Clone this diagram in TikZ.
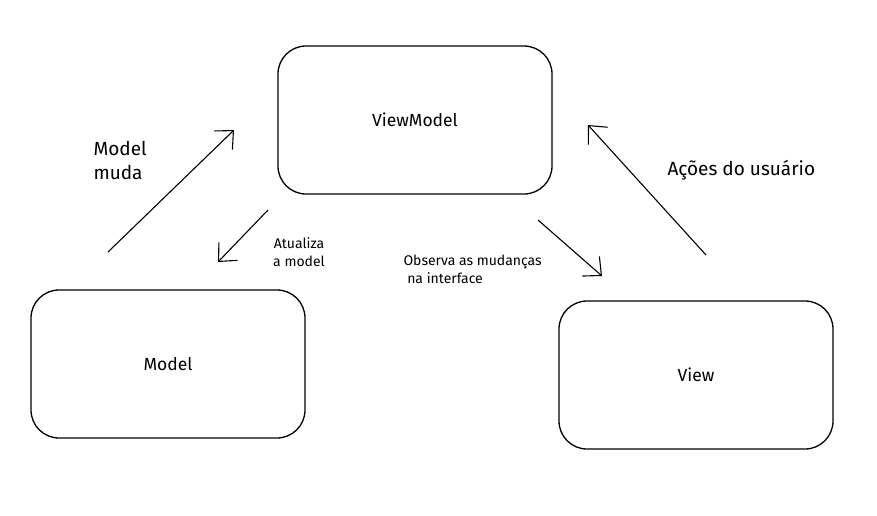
\documentclass[tikz,border=0pt]{standalone}
\usepackage{fontspec}
\setmainfont{Fira Sans}
\usetikzlibrary{arrows.meta}

\begin{document}
\begin{tikzpicture}[x=1pt, y=-1pt,
    box/.style = {draw, line width=1.3pt, rounded corners=28pt,
      minimum width=274pt, minimum height=148pt,
      font=\fontsize{17.5}{20}\selectfont},
    flow/.style = {line width=1.1pt, -{Straight Barb[length=14pt, width=26pt, line width=1.1pt]}},
    big/.style = {font=\fontsize{19}{24}\selectfont, align=left},
    small/.style = {font=\fontsize{14}{18}\selectfont}]

    \useasboundingbox (0,0) rectangle (877,515);

    % the three boxes
    \node[box] (viewmodel) at (415,120) {ViewModel};
    \node[box] (model) at (168,364) {Model};
    \node[box] (view) at (696,375) {View};

    % arrow ends
    \coordinate (mudaA) at (108,252);
    \coordinate (mudaB) at (234,130);
    \coordinate (atuA) at (268,210);
    \coordinate (atuB) at (218,262);
    \coordinate (obsA) at (538,220);
    \coordinate (obsB) at (602,276);
    \coordinate (acaoA) at (706,255);
    \coordinate (acaoB) at (588,125);

    \draw[flow] (mudaA) -- (mudaB);
    \draw[flow] (atuA) -- (atuB);
    \draw[flow] (obsA) -- (obsB);
    \draw[flow] (acaoA) -- (acaoB);

    % labels
    \node[big, anchor=west] (mudaLabel) at (90,160) {Model\\muda};
    \node[small, align=center] (atuLabel) at (299,252) {Atualiza\\a model};
    \node[small, align=left, anchor=west] (obsLabel) at (400,269) {Observa as mudanças\\\ na interface};
    \node[big, anchor=west] (acaoLabel) at (664,170) {Ações do usuário};
\end{tikzpicture}
\end{document}
